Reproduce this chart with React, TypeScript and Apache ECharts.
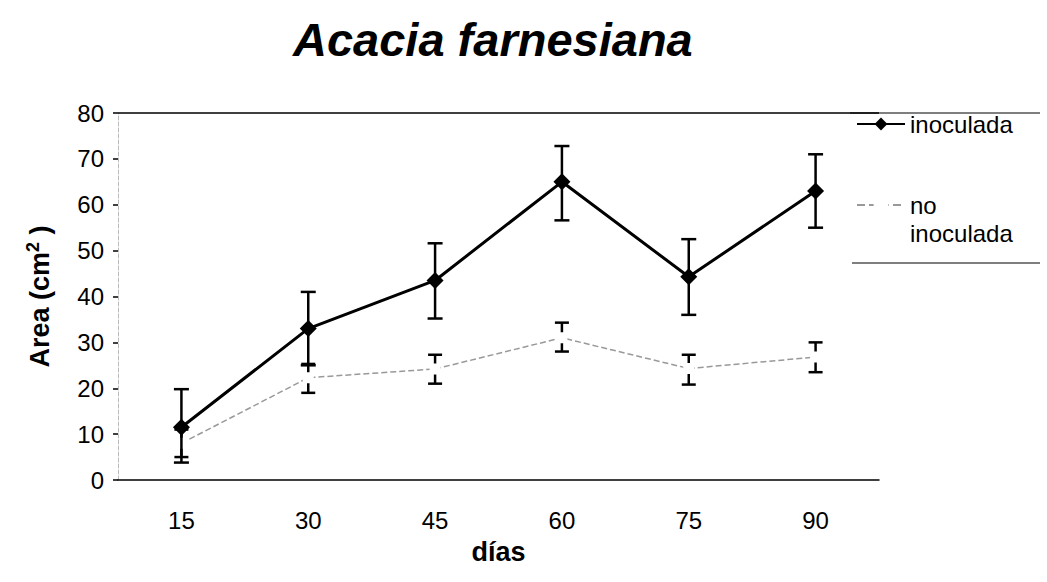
import React, { useEffect, useRef } from "react";
import * as echarts from "echarts";

const categories = ["15", "30", "45", "60", "75", "90"];
const inoculadaMean = [11.5, 33, 43.5, 65, 44.3, 63];
const inoculadaLow = [3.8, 25, 35.2, 56.6, 36, 55];
const inoculadaHigh = [19.8, 41, 51.6, 72.8, 52.5, 71];
const noInoculadaMean = [8, 22.3, 24.2, 31, 24.3, 26.8];
const noInoculadaLow = [5, 19, 21, 28, 20.8, 23.5];
const noInoculadaHigh = [11, 25.3, 27.3, 34.3, 27.3, 30];

const FONT = "Liberation Sans, Arial, sans-serif";

function errorBars(low: number[], high: number[], capHalf: number, z: number) {
  return {
    type: "custom",
    z,
    silent: true,
    data: low.map((l, i) => [i, l, high[i]]),
    renderItem: (params: any, api: any) => {
      const i = api.value(0);
      const lo = api.coord([i, api.value(1)]);
      const hi = api.coord([i, api.value(2)]);
      const st = { stroke: "#000", lineWidth: 2.5 };
      return {
        type: "group",
        children: [
          { type: "line", shape: { x1: lo[0], y1: lo[1], x2: hi[0], y2: hi[1] }, style: st },
          { type: "line", shape: { x1: lo[0] - capHalf, y1: lo[1], x2: lo[0] + capHalf, y2: lo[1] }, style: st },
          { type: "line", shape: { x1: hi[0] - capHalf, y1: hi[1], x2: hi[0] + capHalf, y2: hi[1] }, style: st },
        ],
      };
    },
  };
}

export default function App() {
  const ref = useRef<HTMLDivElement>(null);
  useEffect(() => {
    if (!ref.current) return;
    const chart = echarts.init(ref.current, undefined, { renderer: "svg" });
    chart.setOption({
      animation: false,
      backgroundColor: "#fff",
      textStyle: { fontFamily: FONT },
      title: {
        text: "Acacia farnesiana",
        left: 288,
        top: 11,
        textStyle: { fontSize: 47, fontWeight: "bold", fontStyle: "italic", color: "#000", fontFamily: FONT },
      },
      grid: { left: 118, right: 168, top: 113, bottom: 102 },
      legend: {
        orient: "vertical",
        left: 856,
        top: 110,
        padding: 0,
        itemGap: 25,
        itemWidth: 48,
        itemHeight: 16,
        textStyle: { fontSize: 24, color: "#000", fontFamily: FONT, lineHeight: 28 },
        formatter: (name: string) => (name === "no inoculada" ? " \nno\ninoculada" : name),
        data: ["inoculada", "no inoculada"],
      },
      xAxis: {
        type: "category",
        data: categories,
        name: "días",
        nameLocation: "middle",
        nameGap: 58,
        nameTextStyle: { fontSize: 27, fontWeight: "bold", color: "#000", fontFamily: FONT },
        axisLine: { lineStyle: { color: "#000", width: 1.5 } },
        axisTick: { show: false },
        axisLabel: { fontSize: 24, color: "#000", margin: 28, fontFamily: FONT },
      },
      yAxis: {
        type: "value",
        min: 0,
        max: 80,
        interval: 10,
        name: "Area (cm{sup|2} )",
        nameLocation: "middle",
        nameGap: 62,
        nameTextStyle: {
          fontSize: 27, fontWeight: "bold", color: "#000", fontFamily: FONT,
          rich: { sup: { fontSize: 18, fontWeight: "bold", verticalAlign: "bottom", padding: [0, 0, 14, 0], fontFamily: FONT } },
        },
        axisLine: { show: true, lineStyle: { color: "#bbb", width: 1, type: "dashed" } },
        axisTick: { show: true, length: 5, lineStyle: { color: "#000", width: 1.5 } },
        axisLabel: { fontSize: 24, color: "#000", margin: 14, fontFamily: FONT },
        splitLine: { show: false },
      },
      graphic: [
        { type: "line", shape: { x1: 850, y1: 113, x2: 1040, y2: 113 }, style: { stroke: "#000", lineWidth: 1.2 } },
        { type: "line", shape: { x1: 852, y1: 263, x2: 1040, y2: 263 }, style: { stroke: "#000", lineWidth: 1.2 } },
      ],
      series: [
        errorBars(noInoculadaLow, noInoculadaHigh, 7, 2),
        {
          name: "no inoculada",
          type: "line",
          data: noInoculadaMean,
          z: 3,
          symbol: "emptyRect",
          symbolSize: 9,
          itemStyle: { color: "#fff", borderColor: "#999", borderWidth: 1.2 },
          lineStyle: { color: "#999", width: 1.5, type: "dashed" },
        },
        errorBars(inoculadaLow, inoculadaHigh, 7.5, 4),
        {
          name: "inoculada",
          type: "line",
          data: inoculadaMean,
          z: 5,
          symbol: "diamond",
          symbolSize: 17,
          itemStyle: { color: "#000" },
          lineStyle: { color: "#000", width: 3 },
          markLine: {
            silent: true,
            symbol: "none",
            label: { show: false },
            lineStyle: { color: "#000", type: "solid", width: 1.5 },
            data: [{ yAxis: 80 }],
          },
        },
      ],
    });
    return () => chart.dispose();
  }, []);
  return <div ref={ref} style={{ position: "absolute", left: 0, top: 0, width: 1047, height: 582 }} />;
}
